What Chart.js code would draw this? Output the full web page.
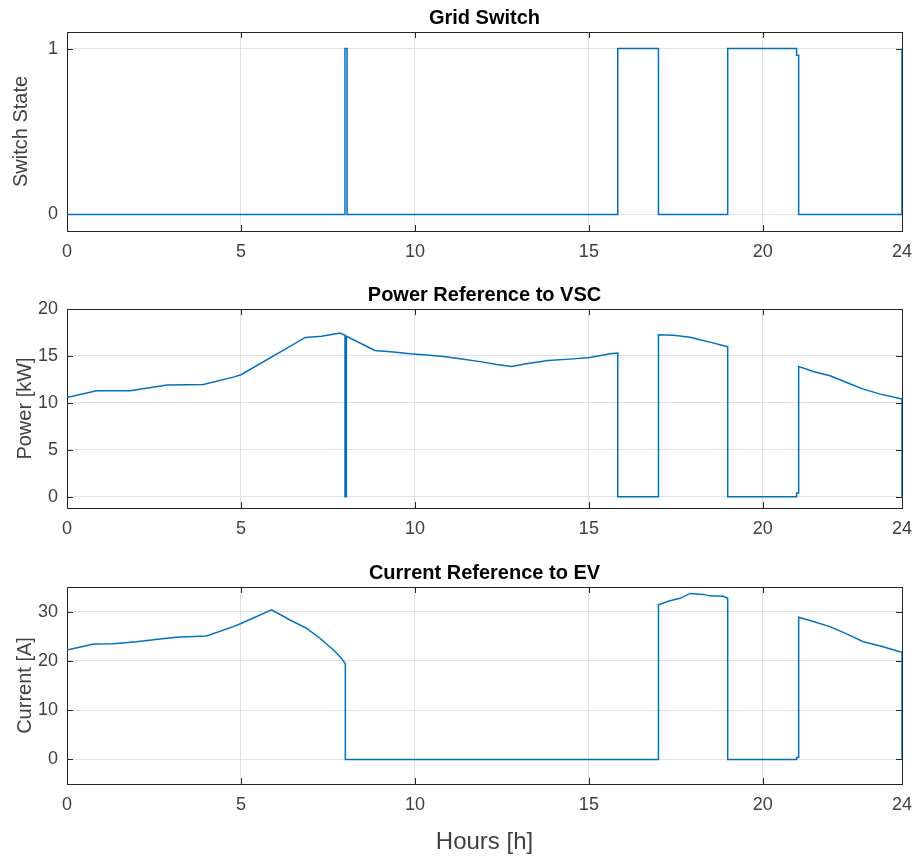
<!DOCTYPE html>
<html>
<head>
<meta charset="utf-8">
<script src="https://cdn.jsdelivr.net/npm/chart.js@4/dist/chart.umd.min.js"></script>
<style>
  html, body { margin: 0; padding: 0; background: #fff; }
  body { width: 916px; height: 858px; position: relative; overflow: hidden; }
  .wrap { position: absolute; left: 0; width: 916px; }
  canvas { display: block; }
</style>
</head>
<body>
<div class="wrap" style="top:0px"><canvas id="c1" width="916" height="277"></canvas></div>
<div class="wrap" style="top:277px"><canvas id="c2" width="916" height="278"></canvas></div>
<div class="wrap" style="top:555px"><canvas id="c3" width="916" height="303"></canvas></div>
<script>
// ---- data ----
const hourTicks = [0, 5, 10, 15, 20, 24];

const switchHours = [0, 7.99, 7.99, 8.05, 8.05, 15.83, 15.83, 17.0, 17.0, 18.99, 18.99, 20.97, 20.97, 21.03, 21.03, 24, 24];
const switchState = [0, 0, 1, 1, 0, 0, 1, 1, 0, 0, 1, 1, 0.96, 0.96, 0, 0, 1];
const switchTicks = [0, 1];

const powerHours = [0, 0.85, 1.81, 2.88, 3.92, 4.78, 5.0, 6.31, 6.85, 7.32, 7.85, 7.99, 7.99, 8.03, 8.03, 8.85, 9.38, 9.86, 10.34, 10.82, 11.3, 11.97, 12.35, 12.78, 13.2, 13.83, 14.45, 15.03, 15.61, 15.83, 15.83, 17.0, 17.0, 17.43, 17.91, 18.19, 18.48, 18.96, 18.99, 18.99, 20.97, 20.97, 21.03, 21.03, 21.45, 21.93, 22.41, 22.89, 23.38, 23.94, 24, 24];
const powerKW    = [10.57, 11.28, 11.3, 11.9, 11.95, 12.74, 13.0, 15.8, 16.97, 17.1, 17.44, 17.2, 0, 0, 17.1, 15.58, 15.41, 15.23, 15.09, 14.94, 14.7, 14.34, 14.09, 13.87, 14.16, 14.51, 14.66, 14.84, 15.23, 15.3, 0, 0, 17.26, 17.2, 17.0, 16.72, 16.47, 16.01, 16.0, 0, 0, 0.4, 0.4, 13.87, 13.34, 12.88, 12.17, 11.46, 10.93, 10.46, 10.4, 0];
const powerTicks = [0, 5, 10, 15, 20];

const currentHours = [0, 0.77, 1.33, 2.0, 2.67, 3.15, 4.01, 4.78, 5.0, 5.88, 6.41, 6.89, 7.27, 7.66, 7.89, 8.0, 8.0, 17.0, 17.0, 17.33, 17.62, 17.91, 18.29, 18.48, 18.86, 18.99, 18.99, 20.97, 20.97, 21.03, 21.03, 21.45, 21.93, 22.41, 22.89, 23.38, 23.94, 24, 24];
const currentA     = [22.2, 23.43, 23.5, 23.9, 24.45, 24.8, 25.06, 26.96, 27.6, 30.35, 28.3, 26.6, 24.6, 22.2, 20.5, 19.4, 0, 0, 31.4, 32.2, 32.7, 33.7, 33.5, 33.2, 33.1, 32.7, 0, 0, 0.4, 0.4, 28.86, 27.98, 26.96, 25.47, 23.9, 23.03, 21.87, 21.8, 0];
const currentTicks = [0, 10, 20, 30];

// ---- styling ----
const FONT = '"Liberation Sans", Arial, Helvetica, sans-serif';
const AXIS_COLOR = '#262626';
const TEXT_COLOR = '#404040';
const GRID_COLOR = '#e1e1e1';
const LINE_COLOR = '#0072BD';

const boxPlugin = {
  id: 'matlabBox',
  beforeDatasetsDraw(chart) {
    const {ctx, chartArea: a, scales} = chart;
    const tl = 6;
    ctx.save();
    ctx.strokeStyle = AXIS_COLOR;
    ctx.lineWidth = 1;
    ctx.beginPath();
    scales.x.ticks.forEach(t => {
      const px = Math.round(scales.x.getPixelForValue(t.value)) + 0.5;
      ctx.moveTo(px, a.bottom); ctx.lineTo(px, a.bottom - tl);
      ctx.moveTo(px, a.top); ctx.lineTo(px, a.top + tl);
    });
    scales.y.ticks.forEach(t => {
      const py = Math.round(scales.y.getPixelForValue(t.value)) + 0.5;
      ctx.moveTo(a.left, py); ctx.lineTo(a.left + tl, py);
      ctx.moveTo(a.right, py); ctx.lineTo(a.right - tl, py);
    });
    ctx.stroke();
    ctx.strokeRect(Math.round(a.left) + 0.5, Math.round(a.top) + 0.5, Math.round(a.right - a.left), Math.round(a.bottom - a.top));
    ctx.restore();
  }
};

function makeChart(id, title, hours, values, yLabel, yMin, yMax, yTicks, xAxisHeight, yTitlePad, xTitle) {
  const pts = hours.map((h, i) => ({x: h, y: values[i]}));
  return new Chart(document.getElementById(id), {
    type: 'line',
    data: { datasets: [{ data: pts, borderColor: LINE_COLOR, borderWidth: 1.5, pointRadius: 0, tension: 0, fill: false }] },
    options: {
      responsive: false,
      animation: false,
      layout: { padding: { left: 0, right: 14, top: 0, bottom: 0 } },
      plugins: {
        legend: { display: false },
        tooltip: { enabled: false },
        title: {
          display: true, text: title, fullSize: false, color: '#000',
          font: { family: FONT, size: 20, weight: 'bold', lineHeight: 1 },
          padding: { top: 8, bottom: 4 }
        }
      },
      scales: {
        x: {
          type: 'linear', min: 0, max: 24,
          afterBuildTicks: s => { s.ticks = hourTicks.map(v => ({value: v})); },
          afterFit: s => { s.height = xAxisHeight; s.paddingLeft = 0; s.paddingRight = 0; },
          grid: { color: GRID_COLOR, drawTicks: false },
          border: { display: false },
          ticks: { color: TEXT_COLOR, padding: 10, maxRotation: 0, font: { family: FONT, size: 18 } },
          title: xTitle ? { display: true, text: xTitle, color: TEXT_COLOR, font: { family: FONT, size: 24, lineHeight: 1.2 }, padding: { top: 0, bottom: 1 } } : { display: false }
        },
        y: {
          type: 'linear', min: yMin, max: yMax,
          afterBuildTicks: s => { s.ticks = yTicks.map(v => ({value: v})); },
          afterFit: s => { s.width = 67; s.paddingTop = 0; s.paddingBottom = 0; },
          grid: { color: GRID_COLOR, drawTicks: false },
          border: { display: false },
          ticks: { color: TEXT_COLOR, padding: 9, font: { family: FONT, size: 18 } },
          title: { display: true, text: yLabel, color: TEXT_COLOR, font: { family: FONT, size: 20, lineHeight: 1.2 }, padding: { top: yTitlePad, bottom: 0 } }
        }
      }
    },
    plugins: [boxPlugin]
  });
}

makeChart('c1', 'Grid Switch', switchHours, switchState, 'Switch State', -0.1, 1.1, switchTicks, 46, 9, null);
makeChart('c2', 'Power Reference to VSC', powerHours, powerKW, 'Power [kW]', -1.2, 20, powerTicks, 47, 13, null);
makeChart('c3', 'Current Reference to EV', currentHours, currentA, 'Current [A]', -5, 35, currentTicks, 74, 13, 'Hours [h]');
</script>
</body>
</html>
